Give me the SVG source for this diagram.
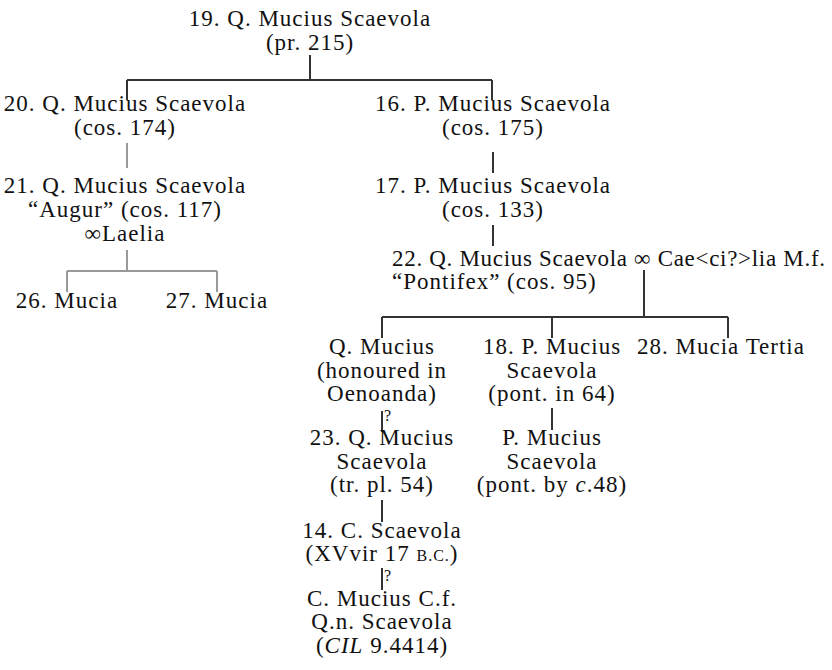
<svg xmlns="http://www.w3.org/2000/svg" width="832" height="670" viewBox="0 0 832 670">
<style>
text{font-family:"Liberation Serif","Times New Roman",serif;font-size:23px;fill:#111;letter-spacing:1px}
.c{text-anchor:middle}
.sc{font-size:16px}
.it{font-style:italic}
.q{font-size:16px;letter-spacing:0}
.dk{stroke:#333;stroke-width:2;fill:none}
.lt{stroke:#999;stroke-width:2;fill:none}
</style>
<rect width="832" height="670" fill="#fff"/>
<g id="connectors">
<path class="dk" d="M310 55V80M127 80H492M127 80V100M492 80V100"/>
<path class="lt" d="M127 143V168M127 250V271M67 271H217M67 271V292M217 271V292"/>
<path class="dk" d="M493 152V173M493 225V246"/>
<path class="dk" d="M644 270V317M382 317H728M382 317V338M552 317V338M728 317V338"/>
<path class="dk" d="M382 411V432M382 500V522M382 568V590M552 408V430"/>
</g>
<g id="n19"><text class="c" x="310" y="26">19. Q. Mucius Scaevola</text><text class="c" x="310" y="50">(pr. 215)</text></g>
<g id="n20"><text class="c" x="125" y="111">20. Q. Mucius Scaevola</text><text class="c" x="125" y="135">(cos. 174)</text></g>
<g id="n21"><text class="c" x="125" y="193">21. Q. Mucius Scaevola</text><text class="c" x="125" y="217">“Augur” (cos. 117)</text><text class="c" x="125" y="241">∞Laelia</text></g>
<g id="n26"><text class="c" x="67" y="308">26. Mucia</text></g>
<g id="n27"><text class="c" x="217" y="308">27. Mucia</text></g>
<g id="n16"><text class="c" x="493" y="111">16. P. Mucius Scaevola</text><text class="c" x="493" y="135">(cos. 175)</text></g>
<g id="n17"><text class="c" x="493" y="193">17. P. Mucius Scaevola</text><text class="c" x="493" y="217">(cos. 133)</text></g>
<g id="n22"><text x="392" y="266" textLength="434" lengthAdjust="spacing">22. Q. Mucius Scaevola ∞ Cae&lt;ci?&gt;lia M.f.</text><text x="392" y="289">“Pontifex” (cos. 95)</text></g>
<g id="nQM"><text class="c" x="382" y="354">Q. Mucius</text><text class="c" x="382" y="378">(honoured in</text><text class="c" x="382" y="401">Oenoanda)</text><text class="q" x="384" y="421">?</text></g>
<g id="n23"><text class="c" x="382" y="445">23. Q. Mucius</text><text class="c" x="382" y="469">Scaevola</text><text class="c" x="382" y="492">(tr. pl. 54)</text></g>
<g id="n14"><text class="c" x="382" y="538">14. C. Scaevola</text><text class="c" x="382" y="561">(XVvir 17 <tspan class="sc">B.C.</tspan>)</text><text class="q" x="384" y="581">?</text></g>
<g id="nCM"><text class="c" x="382" y="606">C. Mucius C.f.</text><text class="c" x="382" y="629">Q.n. Scaevola</text><text class="c" x="382" y="653">(<tspan class="it">CIL</tspan> 9.4414)</text></g>
<g id="n18"><text class="c" x="552" y="354">18. P. Mucius</text><text class="c" x="552" y="378">Scaevola</text><text class="c" x="552" y="401">(pont. in 64)</text></g>
<g id="nPM"><text class="c" x="552" y="445">P. Mucius</text><text class="c" x="552" y="469">Scaevola</text><text class="c" x="552" y="492">(pont. by <tspan class="it">c</tspan>.48)</text></g>
<g id="n28"><text class="c" x="721" y="354">28. Mucia Tertia</text></g>
</svg>
